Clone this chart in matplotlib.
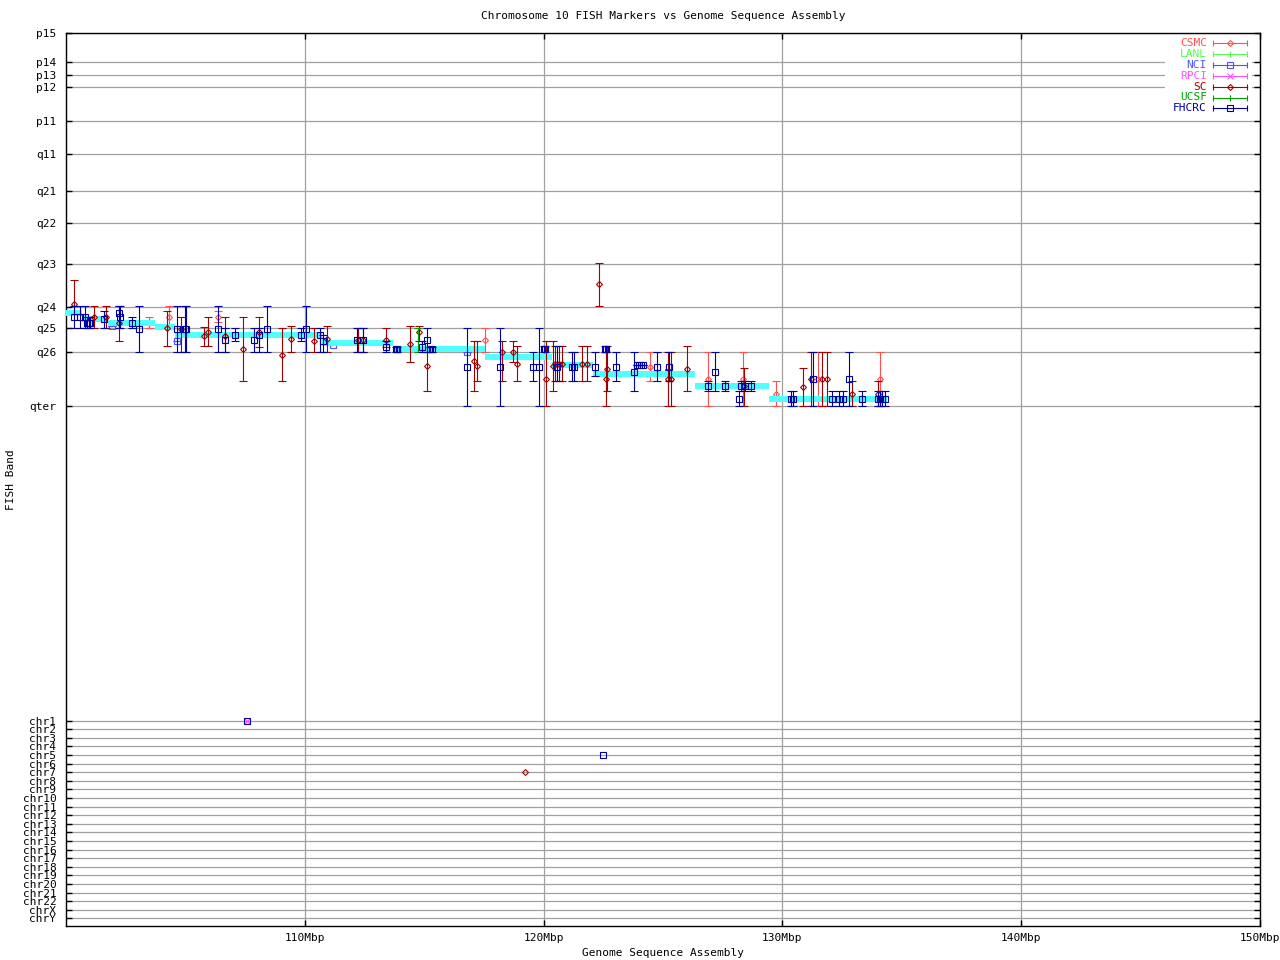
import numpy as np
import matplotlib.pyplot as plt
from matplotlib.patches import Rectangle

plt.rcParams["font.family"] = ["DejaVu Sans Mono"]
plt.rcParams["font.size"] = 8

# vertical scale: FISH band ticks (top of axis = p15) and the other-chromosome rows
BAND_LABELS = ["p15", "p14", "p13", "p12", "p11", "q11", "q21", "q22", "q23",
               "q24", "q25", "q26", "qter"]
BAND_POS = [33, 62, 75, 87, 121, 154, 191, 223, 264, 307, 328, 352, 406]
CHR_LABELS = ["chr%d" % i for i in range(1, 23)] + ["chrX", "chrY"]
CHR_POS = [721, 728.5, 737.5, 746, 754.5, 763.5, 771.5, 780.5, 789, 797.5, 806.5,
           814.5, 823.5, 831.5, 840.5, 849.5, 857.5, 866.5, 875, 883.5, 892.5,
           900.5, 909.5, 918]

XTICKS = [110, 120, 130, 140, 150]
XTICK_LABELS = ["110Mbp", "120Mbp", "130Mbp", "140Mbp", "150Mbp"]

# expected band along the assembly (cyan steps): start Mbp, end Mbp, band position
STEP_START = [100.0, 100.67, 101.76, 103.73, 104.56, 110.72, 113.69, 117.55,
              120.35, 122.07, 126.34, 129.44]
STEP_END = [100.67, 101.76, 103.73, 104.56, 110.72, 113.69, 117.55, 120.35,
            122.07, 126.34, 129.44, 134.38]
STEP_BAND = [313, 319, 323, 327, 335, 343, 349, 357, 365, 374, 386, 399]

# markers per lab: (Mbp, band, band range top, band range bottom)
CSMC = [(103.48, 323, 317, 328), (104.31, 317, 306, 328), (106.37, 317, 311, 322),
        (117.55, 340, 328, 352), (124.45, 367, 352, 381), (126.88, 379, 352, 406),
        (128.35, 379, 352, 406), (129.73, 394, 381, 406), (131.49, 379, 352, 406),
        (134.09, 379, 352, 406)]
LANL = []
NCI = [(101.93, 326, 326, 326), (104.65, 341, 341, 341), (111.20, 345, 345, 345),
       (116.79, 352, 352, 352), (125.21, 372, 372, 372)]
RPCI = []
SC = [(100.34, 304, 280, 306), (101.17, 317, 306, 328), (101.68, 317, 306, 328),
      (102.22, 323, 306, 341), (104.23, 328, 311, 346), (104.82, 329, 317, 352),
      (105.78, 336, 327, 346), (105.95, 332, 317, 346), (106.66, 336, 317, 352),
      (107.41, 349, 317, 381), (108.08, 332, 317, 347), (109.05, 355, 328, 381),
      (109.42, 339, 326, 352), (110.39, 341, 328, 352), (110.93, 339, 326, 352),
      (112.23, 340, 328, 352), (112.44, 340, 328, 352), (113.40, 340, 328, 347),
      (114.41, 344, 326, 362), (114.78, 332, 326, 341), (115.12, 366, 352, 391),
      (117.09, 361, 341, 391), (117.21, 366, 341, 381), (118.26, 352, 341, 381),
      (118.72, 352, 341, 362), (118.89, 364, 346, 381), (120.10, 379, 341, 406),
      (120.39, 366, 341, 391), (120.48, 364, 346, 381), (120.64, 364, 346, 381),
      (120.77, 364, 346, 381), (121.61, 364, 346, 381), (121.82, 364, 346, 381),
      (122.32, 284, 263, 306), (122.61, 379, 352, 406), (122.65, 369, 346, 391),
      (125.21, 379, 352, 406), (125.34, 379, 352, 406), (126.01, 369, 346, 391),
      (128.39, 386, 368, 406), (130.86, 387, 368, 406), (131.20, 379, 352, 406),
      (131.66, 379, 352, 406), (131.87, 379, 352, 406), (132.91, 394, 381, 406),
      (134.00, 394, 381, 406)]
UCSF = [(114.74, 340, 328, 352)]
FHCRC = [(100.34, 317, 306, 328), (100.59, 317, 306, 328), (100.80, 317, 306, 328),
         (100.88, 323, 317, 328), (100.96, 323, 317, 328), (101.01, 323, 317, 328),
         (101.59, 319, 311, 328), (102.22, 313, 306, 328), (102.26, 317, 306, 328),
         (102.76, 323, 317, 328), (103.06, 329, 306, 352), (104.65, 329, 306, 352),
         (104.98, 329, 306, 352), (105.03, 329, 306, 352), (106.37, 329, 306, 352),
         (106.66, 340, 328, 352), (107.08, 335, 328, 341), (107.87, 340, 328, 352),
         (108.08, 335, 328, 352), (108.42, 329, 306, 352), (109.84, 335, 328, 341),
         (110.05, 329, 306, 352), (110.64, 335, 328, 352), (110.76, 341, 335, 352),
         (112.19, 340, 328, 352), (112.44, 340, 328, 352), (113.40, 347, 341, 352),
         (113.82, 349, 347, 352), (113.87, 349, 347, 352), (114.91, 347, 341, 352),
         (115.12, 340, 328, 352), (115.24, 349, 347, 352), (115.33, 349, 347, 352),
         (116.79, 367, 328, 406), (118.17, 367, 328, 406), (119.56, 367, 352, 381),
         (119.81, 367, 328, 406), (120.00, 349, 346, 352), (120.04, 349, 346, 352),
         (120.56, 367, 346, 381), (121.19, 367, 352, 381), (121.27, 367, 352, 381),
         (122.15, 367, 352, 376), (122.59, 349, 346, 352), (122.63, 349, 346, 352),
         (123.03, 367, 352, 381), (123.79, 372, 352, 391), (123.91, 365, 365, 365),
         (124.00, 365, 365, 365), (124.08, 365, 365, 365), (124.16, 365, 365, 365),
         (124.75, 367, 352, 381), (125.25, 367, 352, 381), (126.88, 386, 381, 391),
         (127.18, 372, 352, 391), (127.60, 386, 381, 391), (128.18, 399, 391, 406),
         (128.27, 386, 381, 391), (128.43, 386, 381, 391), (128.69, 386, 381, 391),
         (130.36, 399, 391, 406), (130.44, 399, 391, 406), (131.28, 379, 352, 406),
         (132.08, 399, 391, 406), (132.37, 399, 391, 406), (132.54, 399, 391, 406),
         (132.79, 379, 352, 406), (133.33, 399, 391, 406), (134.00, 399, 391, 406),
         (134.09, 399, 391, 406), (134.17, 399, 391, 406), (134.30, 399, 391, 406)]

# markers that map to other chromosomes
OFF_X = [107.58, 107.58, 119.22, 122.49]
OFF_CHR = ["chr1", "chr1", "chr7", "chr5"]
OFF_SRC = ["FHCRC", "RPCI", "SC", "FHCRC"]

SOURCES = ["CSMC", "LANL", "NCI", "RPCI", "SC", "UCSF", "FHCRC"]
COLORS = {"CSMC": "#ff5050", "LANL": "#50ff50", "NCI": "#5050ff", "RPCI": "#ff50ff",
          "SC": "#a00000", "UCSF": "#00a000", "FHCRC": "#0000a0"}
MARKERS = {"CSMC": ("D", 3.0), "LANL": ("|", 4), "NCI": ("s", 5), "RPCI": ("x", 4),
           "SC": ("D", 3.0), "UCSF": ("|", 4), "FHCRC": ("s", 5)}
DATA = {"CSMC": CSMC, "LANL": LANL, "NCI": NCI, "RPCI": RPCI, "SC": SC,
        "UCSF": UCSF, "FHCRC": FHCRC}
# public labs sit under the cyan band line, the others above it
ZORDER = {"CSMC": 2.2, "LANL": 2.3, "NCI": 2.4, "RPCI": 2.5, "SC": 4.1,
          "UCSF": 4.2, "FHCRC": 4.3}


def draw_source(ax, name):
    rows = DATA[name]
    if not rows:
        return
    x, y, lo, hi = (np.array(c, dtype=float) for c in zip(*rows))
    m, ms = MARKERS[name]
    ax.errorbar(x, y, yerr=[y - lo, hi - y], fmt=m, color=COLORS[name],
                mfc="none", mec=COLORS[name], ms=ms, mew=0.8, elinewidth=0.8,
                capsize=2.6, capthick=0.8, zorder=ZORDER[name])


def main():
    fig = plt.figure(figsize=(12.8, 9.6), dpi=100)
    ax = fig.add_axes([66 / 1280, 34 / 960, 1194 / 1280, 893 / 960])

    ax.set_xlim(100, 150)
    ax.set_ylim(926, 33)

    ax.set_xticks(XTICKS, XTICK_LABELS)
    ax.set_yticks(BAND_POS + CHR_POS, BAND_LABELS + CHR_LABELS)
    ax.tick_params(direction="in", length=4, width=1, top=True, right=True,
                   labelsize=8)
    ax.tick_params(axis="y", pad=7)
    ax.tick_params(axis="x", pad=5)
    ax.grid(True, color="#a0a0a0", lw=0.9)
    ax.set_axisbelow(True)
    for s in ax.spines.values():
        s.set_linewidth(1.0)

    # cyan band assignment steps
    ax.hlines(STEP_BAND, STEP_START, STEP_END, colors="#50ffff", lw=4.3, zorder=3)

    for name in SOURCES:
        draw_source(ax, name)

    for x, chrom, src in zip(OFF_X, OFF_CHR, OFF_SRC):
        m, ms = MARKERS[src]
        ax.plot([x], [CHR_POS[CHR_LABELS.index(chrom)]], ls="none", marker=m,
                ms=ms, mfc="none", mec=COLORS[src], mew=0.8, zorder=ZORDER[src])

    # legend box drawn by hand: label, then a capped bar with the marker
    ax.add_patch(Rectangle((0.9204, 0.9093), 0.0729, 0.0873, transform=ax.transAxes,
                           facecolor="white", edgecolor="none", zorder=5))
    for i, name in enumerate(SOURCES):
        yy = (926 - (43 + i * 10.9)) / 893
        c = COLORS[name]
        ax.text(0.9556, yy, name, color=c, ha="right", va="center",
                transform=ax.transAxes, zorder=6)
        ax.plot([0.9606, 0.9891], [yy, yy], color=c, lw=0.8,
                transform=ax.transAxes, zorder=6)
        ax.plot([0.9606, 0.9891], [yy, yy], ls="none", marker="|", ms=4,
                mew=0.8, color=c, transform=ax.transAxes, zorder=6)
        m, ms = MARKERS[name]
        ax.plot([0.9749], [yy], ls="none", marker=m, ms=ms, mfc="none", mec=c,
                mew=0.8, transform=ax.transAxes, zorder=6)

    ax.set_title("Chromosome 10 FISH Markers vs Genome Sequence Assembly",
                 fontsize=8, pad=10)
    ax.set_xlabel("Genome Sequence Assembly", fontsize=8, labelpad=4)
    ax.set_ylabel("FISH Band", fontsize=8, va="center")
    ax.yaxis.set_label_coords(-(66 - 11) / 1194, 0.5)

    fig.savefig("out.png", dpi=100)


if __name__ == "__main__":
    main()
